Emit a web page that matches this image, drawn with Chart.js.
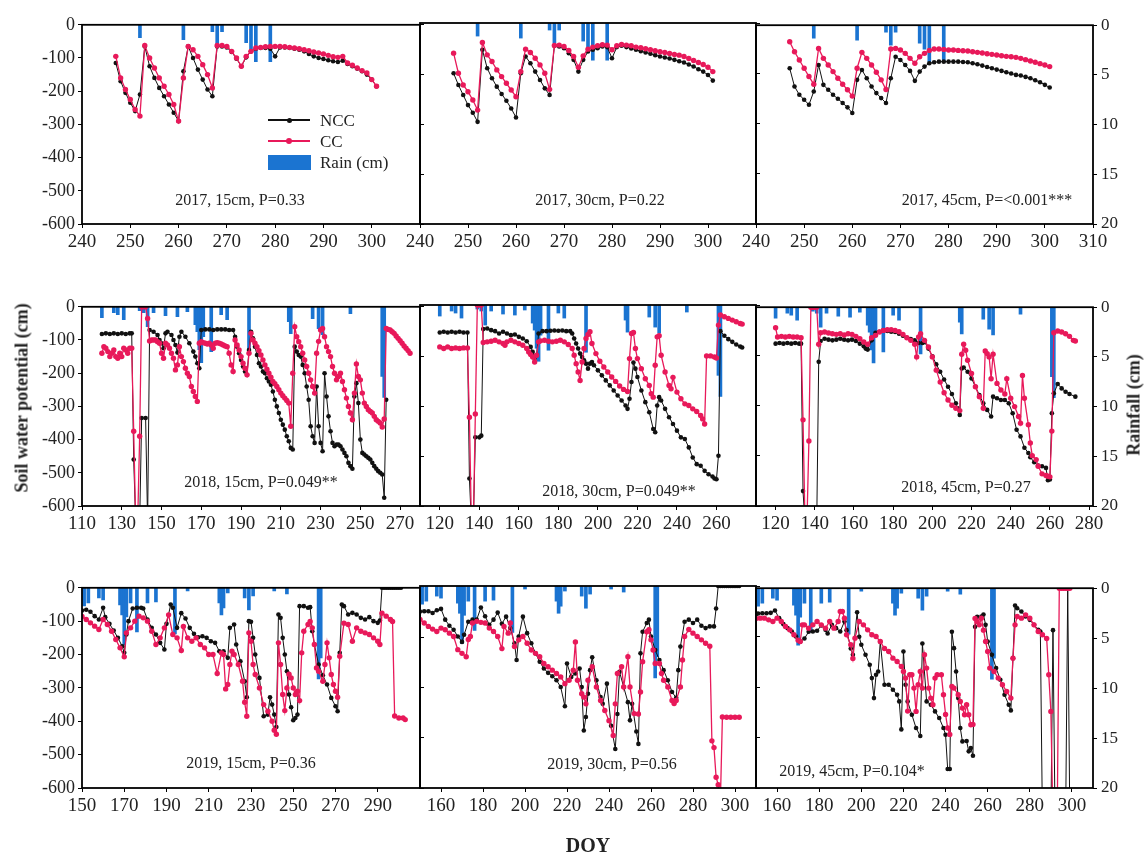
<!DOCTYPE html>
<html lang="en">
<head>
<meta charset="UTF-8">
<title>Soil water potential and rainfall, 2017-2019</title>
<script src="https://cdn.jsdelivr.net/npm/chart.js"></script>
<style>
  body { margin: 0; background: #fff; }
  #fig { position: relative; width: 1146px; height: 857px; font-family: "Liberation Serif", "Times New Roman", serif; color: #222; }
  #fig canvas { position: absolute; }
  .note { position: absolute; font-size: 16px; white-space: nowrap; transform: translate(-50%, -50%); }
  .title { position: absolute; font-weight: bold; font-size: 18px; white-space: nowrap; transform: translate(-50%, -50%); }
  .rot { transform: translate(-50%, -50%) rotate(-90deg); }
  .lg { position: absolute; font-size: 17px; line-height: 1; transform: translateY(-50%); }
</style>
</head>
<body>
<div id="fig"></div>
<script>
// ---- tick labels ----
const yTicks = [-600, -500, -400, -300, -200, -100, 0];
const rainTicks = [0, 5, 10, 15, 20];
const xt17 = [240, 250, 260, 270, 280, 290, 300];
const xt17end = [240, 250, 260, 270, 280, 290, 300, 310];
const xt18a = [110, 130, 150, 170, 190, 210, 230, 250, 270];
const xt18b = [120, 140, 160, 180, 200, 220, 240, 260];
const xt18c = [120, 140, 160, 180, 200, 220, 240, 260, 280];
const xt19a = [150, 170, 190, 210, 230, 250, 270, 290];
const xt19b = [160, 180, 200, 220, 240, 260, 280, 300];
const xt19c = [160, 180, 200, 220, 240, 260, 280, 300];

// ---- rainfall (cm), [DOY, rain] ----
const rain17 = [[252,1.3],[261,1.5],[267,0.7],[268,2.0],[269,0.7],[274,1.8],[275,2.4],[276,3.7],[279,3.7]];
const rain18 = [[120,1.1],[126,0.6],[128,0.8],[131,1.3],[139,0.4],[141,0.6],[143,2.0],[146,0.6],[152,0.9],[158,1.0],[163,0.5],[167,1.8],[168,2.5],[169,4.3],[170,5.6],[171,3.0],[175,4.5],[180,0.8],[183,1.3],[194,4.7],[214,1.5],[215,2.7],[226,1.2],[229,2.2],[231,2.8],[245,0.7],[261,7.0],[262,9.1]];
const rain19 = [[151,1.8],[153,1.5],[158,1.0],[160,1.2],[168,1.7],[169,2.7],[170,5.7],[171,2.9],[173,1.5],[176,4.4],[181,1.5],[185,1.4],[194,4.6],[200,0.3],[215,1.5],[216,2.7],[217,2.0],[219,0.5],[227,1.0],[229,2.2],[231,0.8],[241,0.3],[247,0.6],[262,9.1],[263,7.0]];

// ---- soil water potential (cm), [DOY, value] ----
const ncc17_15 = [[247,-115],[248,-170],[249,-205],[250,-235],[251,-260],[252,-210],[253,-65],[254,-125],[255,-160],[256,-190],[257,-215],[258,-240],[259,-265],[260,-290],[261,-140],[262,-65],[263,-100],[264,-135],[265,-165],[266,-195],[267,-215],[268,-65],[269,-65],[270,-68],[271,-82],[272,-102],[273,-125],[274,-98],[275,-80],[276,-72],[277,-70],[278,-70],[279,-72],[280,-95],[281,-68],[282,-68],[283,-70],[284,-72],[285,-75],[286,-80],[287,-88],[288,-95],[289,-100],[290,-103],[291,-107],[292,-110],[293,-112],[294,-108],[295,-118],[296,-125],[297,-132],[298,-140],[299,-150],[300,-165],[301,-185]];
const cc17_15 = [[247,-95],[248,-160],[249,-195],[250,-225],[251,-255],[252,-275],[253,-62],[254,-100],[255,-130],[256,-160],[257,-185],[258,-210],[259,-240],[260,-290],[261,-160],[262,-65],[263,-75],[264,-95],[265,-120],[266,-150],[267,-190],[268,-62],[269,-62],[270,-65],[271,-80],[272,-100],[273,-125],[274,-95],[275,-80],[276,-70],[277,-68],[278,-66],[279,-65],[280,-65],[281,-65],[282,-66],[283,-68],[284,-70],[285,-72],[286,-75],[287,-78],[288,-82],[289,-85],[290,-88],[291,-92],[292,-96],[293,-98],[294,-95],[295,-115],[296,-122],[297,-130],[298,-138],[299,-145],[300,-165],[301,-185]];
const ncc17_30 = [[247,-150],[248,-185],[249,-215],[250,-245],[251,-268],[252,-295],[253,-80],[254,-135],[255,-165],[256,-190],[257,-212],[258,-232],[259,-255],[260,-282],[261,-150],[262,-100],[263,-120],[264,-145],[265,-170],[266,-195],[267,-215],[268,-68],[269,-70],[270,-75],[271,-90],[272,-110],[273,-145],[274,-110],[275,-85],[276,-80],[277,-75],[278,-70],[279,-72],[280,-105],[281,-72],[282,-68],[283,-72],[284,-76],[285,-80],[286,-84],[287,-88],[288,-92],[289,-96],[290,-100],[291,-103],[292,-106],[293,-110],[294,-114],[295,-118],[296,-124],[297,-130],[298,-138],[299,-145],[300,-155],[301,-172]];
const cc17_30 = [[247,-90],[248,-150],[249,-185],[250,-205],[251,-230],[252,-260],[253,-58],[254,-95],[255,-115],[256,-140],[257,-160],[258,-180],[259,-200],[260,-220],[261,-145],[262,-78],[263,-88],[264,-105],[265,-125],[266,-150],[267,-198],[268,-67],[269,-66],[270,-70],[271,-82],[272,-100],[273,-132],[274,-98],[275,-78],[276,-72],[277,-68],[278,-65],[279,-66],[280,-80],[281,-68],[282,-64],[283,-66],[284,-68],[285,-72],[286,-74],[287,-77],[288,-80],[289,-83],[290,-86],[291,-88],[292,-91],[293,-94],[294,-96],[295,-100],[296,-106],[297,-112],[298,-118],[299,-124],[300,-132],[301,-145]];
const ncc17_45 = [[247,-130],[248,-185],[249,-210],[250,-225],[251,-240],[252,-200],[253,-120],[254,-180],[255,-195],[256,-210],[257,-222],[258,-235],[259,-248],[260,-265],[261,-165],[262,-135],[263,-160],[264,-185],[265,-205],[266,-220],[267,-235],[268,-160],[269,-95],[270,-105],[271,-120],[272,-138],[273,-168],[274,-140],[275,-125],[276,-115],[277,-112],[278,-110],[279,-110],[280,-110],[281,-110],[282,-110],[283,-111],[284,-112],[285,-115],[286,-118],[287,-122],[288,-126],[289,-130],[290,-134],[291,-138],[292,-142],[293,-146],[294,-150],[295,-152],[296,-156],[297,-160],[298,-166],[299,-172],[300,-180],[301,-188]];
const cc17_45 = [[247,-50],[248,-80],[249,-105],[250,-130],[251,-155],[252,-178],[253,-70],[254,-100],[255,-120],[256,-140],[257,-160],[258,-178],[259,-195],[260,-214],[261,-130],[262,-82],[263,-100],[264,-120],[265,-142],[266,-165],[267,-194],[268,-72],[269,-70],[270,-75],[271,-85],[272,-100],[273,-115],[274,-95],[275,-85],[276,-76],[277,-72],[278,-72],[279,-73],[280,-75],[281,-75],[282,-76],[283,-77],[284,-78],[285,-80],[286,-82],[287,-84],[288,-86],[289,-88],[290,-90],[291,-92],[292,-94],[293,-95],[294,-97],[295,-100],[296,-104],[297,-108],[298,-112],[299,-116],[300,-120],[301,-125]];

const ncc18_15 = [[120,-82],[122,-80],[124,-82],[126,-80],[128,-82],[130,-80],[132,-82],[134,-80],[135,-80],[136,-460],[137,-650],[139,-650],[140,-335],[142,-335],[143,-650],[144,-70],[146,-75],[148,-85],[149,-100],[150,-110],[151,-125],[152,-80],[153,-75],[155,-85],[156,-100],[157,-115],[158,-138],[159,-90],[160,-75],[162,-90],[164,-110],[166,-135],[167,-150],[168,-170],[169,-185],[170,-70],[172,-68],[174,-68],[176,-70],[178,-68],[180,-68],[182,-68],[184,-70],[186,-70],[187,-90],[188,-120],[189,-140],[190,-160],[191,-180],[192,-195],[193,-205],[194,-130],[195,-75],[196,-95],[197,-120],[198,-145],[199,-170],[200,-180],[201,-195],[202,-200],[203,-215],[204,-225],[205,-235],[206,-255],[207,-280],[208,-300],[209,-320],[210,-340],[211,-355],[212,-370],[213,-390],[214,-405],[215,-425],[216,-430],[217,-120],[218,-135],[219,-145],[220,-150],[221,-175],[222,-200],[223,-240],[224,-280],[225,-360],[226,-390],[227,-410],[228,-240],[229,-360],[230,-410],[231,-435],[232,-200],[233,-270],[234,-330],[235,-375],[236,-410],[237,-420],[238,-415],[239,-415],[240,-420],[241,-430],[242,-440],[243,-450],[244,-470],[245,-480],[246,-488],[247,-270],[248,-230],[249,-290],[250,-400],[251,-440],[252,-445],[253,-450],[254,-455],[255,-460],[256,-470],[257,-480],[258,-488],[259,-495],[260,-500],[261,-505],[262,-575],[263,-280]];
const cc18_15 = [[120,-140],[121,-120],[122,-125],[123,-135],[124,-150],[125,-140],[126,-130],[127,-150],[128,-155],[129,-140],[130,-150],[131,-125],[132,-130],[133,-140],[134,-125],[135,-125],[136,-375],[137,-650],[138,-650],[139,-390],[140,0],[141,0],[142,0],[143,-35],[144,-103],[145,-100],[146,-100],[147,-100],[148,-105],[149,-110],[150,-140],[151,-155],[152,-110],[153,-115],[154,-125],[155,-140],[156,-155],[157,-190],[158,-175],[159,-120],[160,-150],[161,-165],[162,-185],[163,-200],[164,-210],[165,-240],[166,-255],[167,-270],[168,-285],[169,-110],[170,-105],[171,-108],[172,-110],[173,-112],[174,-110],[175,-115],[176,-125],[177,-110],[178,-108],[179,-110],[180,-112],[181,-115],[182,-118],[183,-120],[184,-140],[185,-175],[186,-195],[187,-100],[188,-115],[189,-130],[190,-150],[191,-170],[192,-185],[193,-205],[194,-140],[195,-80],[196,-100],[197,-110],[198,-120],[199,-132],[200,-145],[201,-160],[202,-175],[203,-188],[204,-200],[205,-212],[206,-225],[207,-232],[208,-240],[209,-250],[210,-260],[211,-268],[212,-275],[213,-282],[214,-290],[215,-360],[216,-200],[217,-60],[218,-90],[219,-105],[220,-120],[221,-140],[222,-160],[223,-180],[224,-200],[225,-220],[226,-240],[227,-260],[228,-140],[229,-104],[230,-70],[231,-65],[232,-90],[233,-120],[234,-135],[235,-150],[236,-180],[237,-200],[238,-220],[239,-210],[240,-200],[241,-225],[242,-250],[243,-275],[244,-300],[245,-320],[246,-340],[247,-260],[248,-172],[249,-210],[250,-220],[251,-260],[252,-290],[253,-300],[254,-310],[255,-315],[256,-320],[257,-330],[258,-340],[259,-345],[260,-350],[261,-362],[262,-338],[263,-65],[264,-68],[265,-70],[266,-75],[267,-80],[268,-88],[269,-95],[270,-102],[271,-110],[272,-118],[273,-125],[274,-132],[275,-140]];
const ncc18_30 = [[120,-82],[122,-80],[124,-82],[126,-80],[128,-82],[130,-80],[132,-82],[134,-82],[135,-518],[136,-650],[137,-650],[138,-395],[140,-395],[141,-390],[142,-72],[144,-70],[146,-75],[148,-78],[150,-85],[152,-80],[154,-85],[156,-90],[158,-88],[160,-95],[162,-100],[164,-108],[166,-125],[167,-140],[168,-160],[169,-150],[170,-85],[172,-78],[174,-78],[176,-77],[178,-76],[180,-77],[182,-76],[184,-78],[186,-78],[187,-85],[188,-100],[189,-115],[190,-130],[191,-145],[192,-155],[193,-165],[194,-175],[195,-190],[196,-175],[197,-170],[198,-180],[200,-195],[202,-210],[204,-225],[206,-240],[208,-255],[210,-270],[212,-285],[214,-300],[215,-310],[216,-280],[217,-230],[218,-172],[219,-190],[220,-215],[222,-255],[224,-290],[226,-320],[228,-370],[229,-380],[230,-300],[231,-275],[232,-285],[234,-310],[236,-335],[238,-355],[240,-375],[242,-395],[244,-400],[246,-425],[248,-455],[250,-475],[252,-480],[254,-495],[256,-505],[258,-512],[259,-518],[260,-520],[261,-450],[262,-78],[264,-92],[266,-102],[268,-110],[270,-118],[272,-124],[273,-127]];
const cc18_30 = [[120,-125],[122,-130],[124,-125],[126,-130],[128,-128],[130,-130],[132,-128],[134,-128],[135,-335],[136,-650],[137,-650],[138,-325],[139,0],[140,0],[141,0],[142,-112],[144,-110],[146,-108],[148,-105],[150,-110],[152,-115],[153,-120],[154,-110],[156,-105],[158,-110],[160,-115],[162,-120],[164,-130],[165,-140],[166,-148],[167,-155],[168,-170],[169,-150],[170,-110],[171,-107],[173,-105],[175,-108],[177,-110],[179,-108],[181,-105],[183,-110],[185,-118],[187,-130],[188,-150],[189,-175],[190,-200],[191,-225],[192,-170],[193,-130],[194,-100],[195,-88],[196,-80],[197,-115],[199,-145],[201,-168],[203,-185],[205,-200],[207,-215],[209,-228],[211,-242],[213,-252],[215,-258],[216,-160],[217,-85],[218,-82],[219,-130],[220,-160],[222,-190],[224,-220],[226,-240],[227,-265],[228,-275],[229,-180],[230,-95],[231,-92],[232,-150],[234,-200],[236,-240],[237,-250],[238,-216],[240,-260],[242,-280],[244,-295],[246,-300],[248,-310],[250,-318],[252,-330],[253,-340],[254,-355],[255,-152],[257,-152],[259,-155],[260,-158],[261,-60],[262,-30],[264,-35],[266,-40],[268,-45],[270,-50],[272,-55],[273,-57]];
const ncc18_45 = [[120,-110],[122,-108],[124,-110],[126,-108],[128,-110],[130,-108],[132,-110],[133,-110],[134,-555],[135,-650],[141,-650],[142,-165],[143,-102],[145,-95],[147,-98],[149,-100],[151,-98],[153,-95],[155,-98],[157,-100],[159,-98],[161,-102],[163,-110],[165,-118],[166,-125],[167,-128],[169,-100],[171,-77],[173,-74],[175,-70],[177,-72],[179,-74],[181,-75],[183,-80],[185,-86],[187,-92],[189,-96],[191,-100],[193,-108],[195,-108],[196,-105],[198,-125],[200,-148],[202,-172],[204,-195],[206,-218],[208,-240],[210,-262],[212,-290],[213,-305],[214,-325],[215,-185],[216,-182],[218,-195],[220,-215],[222,-240],[224,-265],[226,-290],[228,-310],[230,-330],[231,-270],[233,-275],[235,-280],[237,-280],[239,-290],[241,-320],[243,-370],[245,-390],[247,-424],[249,-440],[250,-453],[252,-468],[254,-478],[256,-480],[258,-485],[259,-522],[260,-520],[261,-320],[262,-260],[264,-232],[266,-245],[268,-255],[270,-262],[273,-270]];
const cc18_45 = [[120,-62],[121,-90],[123,-88],[125,-90],[127,-88],[129,-90],[131,-90],[133,-92],[134,-340],[135,-650],[136,-650],[137,-404],[138,0],[139,0],[140,0],[141,0],[142,-112],[143,-77],[145,-75],[147,-78],[149,-80],[151,-82],[153,-80],[155,-84],[157,-80],[159,-82],[161,-88],[163,-95],[165,-105],[167,-112],[169,-92],[171,-85],[173,-75],[175,-70],[177,-68],[179,-68],[181,-70],[183,-74],[185,-82],[187,-92],[189,-100],[191,-112],[192,-150],[193,-90],[194,-80],[196,-100],[198,-120],[200,-150],[202,-190],[204,-226],[206,-258],[208,-280],[210,-296],[212,-305],[214,-312],[215,-142],[216,-112],[217,-130],[218,-160],[220,-200],[222,-240],[224,-270],[226,-305],[227,-132],[228,-140],[229,-150],[230,-216],[231,-142],[233,-230],[235,-250],[237,-262],[238,-216],[240,-275],[242,-300],[244,-330],[245,-350],[246,-206],[247,-275],[249,-355],[250,-410],[251,-448],[253,-460],[254,-480],[256,-503],[258,-508],[259,-510],[260,-512],[261,-374],[262,-77],[264,-72],[266,-75],[268,-80],[270,-88],[272,-100],[273,-102]];

const ncc19_15 = [[150,-68],[152,-66],[154,-72],[156,-85],[158,-95],[160,-60],[161,-88],[163,-108],[165,-128],[167,-150],[169,-175],[170,-195],[171,-140],[172,-100],[174,-62],[176,-60],[178,-60],[179,-62],[181,-95],[183,-120],[185,-140],[187,-165],[189,-185],[190,-108],[192,-50],[193,-60],[195,-120],[197,-76],[199,-92],[201,-120],[203,-138],[205,-148],[207,-145],[209,-150],[211,-160],[213,-165],[215,-190],[217,-190],[219,-210],[220,-120],[222,-110],[223,-170],[225,-220],[227,-280],[228,-328],[229,-100],[230,-102],[231,-150],[232,-200],[234,-270],[236,-385],[238,-380],[239,-328],[240,-350],[241,-380],[242,-417],[243,-80],[244,-90],[245,-150],[246,-200],[247,-250],[248,-320],[249,-358],[250,-397],[251,-390],[252,-380],[253,-55],[255,-55],[257,-60],[258,-58],[259,-130],[260,-170],[262,-230],[264,-262],[266,-290],[268,-330],[270,-355],[271,-370],[272,-195],[273,-50],[274,-55],[276,-80],[278,-75],[280,-80],[282,-90],[284,-95],[286,-88],[288,-100],[290,-105],[291,-98],[292,0],[293,0],[294,0],[295,0],[296,0],[297,0],[298,0],[299,0],[300,0],[301,0]];
const cc19_15 = [[150,-86],[152,-95],[154,-105],[156,-115],[158,-125],[160,-95],[162,-110],[164,-130],[166,-155],[168,-180],[170,-207],[171,-135],[173,-120],[175,-100],[177,-85],[179,-90],[181,-100],[183,-130],[185,-170],[187,-150],[189,-120],[191,-81],[193,-140],[195,-150],[197,-188],[198,-116],[200,-150],[202,-160],[204,-150],[206,-170],[208,-180],[210,-200],[212,-200],[214,-257],[216,-195],[217,-200],[218,-303],[219,-290],[220,-230],[221,-190],[222,-200],[224,-230],[226,-280],[227,-343],[228,-385],[229,-135],[230,-160],[231,-230],[232,-260],[234,-300],[236,-350],[238,-370],[240,-400],[241,-427],[242,-439],[243,-165],[244,-230],[245,-320],[246,-368],[247,-300],[248,-259],[249,-270],[250,-300],[251,-320],[252,-310],[253,-338],[254,-195],[255,-130],[257,-110],[258,-101],[259,-120],[260,-170],[261,-240],[262,-250],[264,-280],[265,-230],[266,-165],[267,-210],[268,-260],[269,-290],[270,-310],[271,-328],[272,-205],[274,-106],[276,-110],[278,-160],[280,-120],[282,-130],[284,-135],[286,-140],[288,-150],[290,-160],[291,-170],[292,-76],[294,-85],[296,-95],[297,-101],[298,-384],[300,-390],[302,-390],[303,-395]];
const ncc19_30 = [[150,-76],[152,-75],[154,-75],[156,-80],[158,-72],[160,-68],[162,-100],[164,-118],[166,-130],[168,-150],[170,-166],[171,-145],[173,-106],[175,-100],[177,-100],[179,-64],[181,-90],[183,-115],[185,-100],[187,-79],[189,-112],[191,-91],[193,-125],[195,-170],[196,-220],[197,-150],[199,-91],[201,-140],[203,-170],[205,-200],[207,-225],[209,-245],[211,-258],[213,-268],[215,-280],[217,-300],[219,-357],[220,-230],[222,-270],[224,-260],[226,-245],[227,-300],[228,-429],[229,-389],[230,-320],[231,-250],[232,-212],[234,-280],[236,-330],[237,-350],[239,-290],[241,-415],[243,-484],[244,-380],[245,-255],[247,-300],[249,-345],[250,-399],[251,-350],[253,-432],[254,-469],[255,-200],[256,-136],[258,-110],[259,-100],[260,-150],[262,-190],[264,-220],[266,-250],[268,-280],[270,-315],[272,-332],[273,-250],[274,-180],[276,-106],[278,-100],[280,-110],[282,-100],[284,-118],[286,-125],[288,-120],[290,-120],[291,-67],[292,0],[293,0],[294,0],[295,0],[296,0],[297,0],[298,0],[299,0],[300,0],[301,0],[302,0]];
const cc19_30 = [[150,-99],[152,-110],[154,-120],[156,-128],[158,-135],[160,-125],[162,-130],[164,-140],[166,-150],[168,-189],[170,-200],[172,-210],[173,-159],[174,-150],[175,-110],[177,-105],[179,-108],[181,-110],[183,-125],[185,-135],[187,-150],[189,-186],[190,-120],[192,-140],[193,-110],[195,-180],[197,-160],[199,-150],[201,-170],[203,-190],[205,-200],[207,-210],[209,-230],[211,-240],[213,-250],[215,-260],[217,-270],[219,-290],[221,-280],[223,-250],[224,-166],[225,-280],[227,-320],[228,-330],[229,-350],[230,-280],[232,-240],[234,-300],[236,-340],[238,-370],[240,-400],[242,-444],[243,-350],[244,-260],[246,-240],[247,-300],[249,-210],[250,-300],[252,-379],[254,-380],[255,-315],[256,-225],[258,-136],[259,-130],[260,-160],[261,-190],[262,-230],[264,-230],[265,-260],[266,-280],[268,-300],[270,-340],[271,-349],[272,-340],[274,-300],[275,-220],[276,-150],[278,-129],[280,-140],[282,-150],[284,-160],[286,-170],[288,-179],[289,-460],[290,-480],[291,-568],[292,-590],[293,-650],[294,-389],[296,-390],[298,-390],[300,-390],[302,-390]];
const ncc19_45 = [[150,-78],[151,-76],[153,-75],[155,-75],[157,-74],[159,-67],[161,-90],[163,-108],[165,-120],[167,-130],[169,-145],[171,-161],[173,-151],[175,-131],[177,-130],[179,-128],[181,-112],[183,-125],[184,-136],[186,-110],[188,-120],[190,-130],[192,-100],[193,-126],[195,-181],[196,-200],[198,-72],[199,-146],[200,-170],[202,-200],[204,-230],[205,-270],[206,-330],[207,-260],[208,-250],[209,-161],[211,-290],[213,-290],[215,-305],[217,-320],[218,-340],[219,-424],[220,-190],[221,-290],[222,-340],[224,-380],[226,-420],[228,-444],[229,-166],[231,-340],[233,-350],[235,-370],[237,-390],[239,-420],[240,-440],[241,-543],[242,-543],[243,-131],[244,-180],[245,-250],[246,-330],[247,-420],[248,-460],[250,-459],[251,-490],[252,-480],[253,-503],[254,-116],[255,-86],[257,-85],[258,-79],[259,-110],[260,-160],[262,-200],[264,-240],[266,-275],[268,-320],[270,-350],[271,-367],[272,-210],[273,-52],[274,-60],[276,-70],[278,-85],[280,-95],[282,-110],[284,-125],[285,-130],[286,-700],[290,-700],[291,-126],[292,-700],[297,-700],[298,0],[299,-700]];
const cc19_45 = [[150,-91],[152,-90],[154,-90],[156,-95],[158,-100],[160,-90],[162,-100],[164,-115],[166,-125],[168,-140],[170,-156],[171,-160],[172,-110],[173,-110],[175,-120],[177,-110],[179,-100],[181,-110],[183,-120],[185,-100],[187,-120],[189,-100],[190,-70],[191,-70],[192,-90],[193,-140],[195,-170],[196,-211],[197,-150],[199,-100],[201,-110],[203,-125],[205,-140],[207,-145],[209,-160],[211,-181],[213,-190],[215,-210],[217,-220],[219,-235],[220,-250],[221,-270],[222,-369],[223,-260],[224,-260],[225,-300],[226,-370],[227,-290],[228,-250],[229,-300],[230,-200],[231,-240],[232,-300],[233,-330],[234,-350],[235,-270],[236,-260],[238,-260],[239,-320],[240,-379],[241,-420],[242,-439],[243,-295],[244,-300],[246,-320],[247,-340],[248,-360],[249,-380],[250,-350],[251,-380],[252,-410],[253,-409],[254,-91],[255,-100],[256,-110],[257,-90],[258,-126],[259,-160],[260,-190],[261,-240],[263,-250],[265,-270],[267,-290],[269,-310],[271,-330],[272,-210],[273,-110],[274,-85],[276,-90],[278,-80],[280,-90],[282,-110],[284,-130],[286,-140],[288,-151],[289,-260],[290,-370],[291,-700],[293,-700],[294,0],[295,0],[296,0],[297,0],[298,0],[299,0]];

// ---- layout of the 3x3 grid (plot-area edges in px) ----
const colL = [82, 420, 756];
const colR = [420, 756, 1093];
const rowT = [23, 305, 586];
const rowB = [224, 506, 788];
const PAD_L = 70, PAD_R = 50, PAD_T = 12, PAD_B = 40;

const NCC_COLOR = '#111111';
const CC_COLOR = '#e8195a';
const RAIN_COLOR = '#1b74d1';
const FONT = '"Liberation Serif", "Times New Roman", serif';

const panels = [
  { r: 0, c: 0, ncc: ncc17_15, cc: cc17_15, rain: rain17, xmin: 240, xmax: 310, xt: xt17, note: '2017, 15cm, P=0.33', nx: 240, ny: 200 },
  { r: 0, c: 1, ncc: ncc17_30, cc: cc17_30, rain: rain17, xmin: 240, xmax: 310, xt: xt17, note: '2017, 30cm, P=0.22', nx: 600, ny: 200 },
  { r: 0, c: 2, ncc: ncc17_45, cc: cc17_45, rain: rain17, xmin: 240, xmax: 310, xt: xt17end, note: '2017, 45cm, P=<0.001***', nx: 987, ny: 200 },
  { r: 1, c: 0, ncc: ncc18_15, cc: cc18_15, rain: rain18, xmin: 110, xmax: 280, xt: xt18a, note: '2018, 15cm, P=0.049**', nx: 261, ny: 482 },
  { r: 1, c: 1, ncc: ncc18_30, cc: cc18_30, rain: rain18, xmin: 110, xmax: 280, xt: xt18b, note: '2018, 30cm, P=0.049**', nx: 619, ny: 491 },
  { r: 1, c: 2, ncc: ncc18_45, cc: cc18_45, rain: rain18, xmin: 110, xmax: 282, xt: xt18c, note: '2018, 45cm, P=0.27', nx: 966, ny: 487 },
  { r: 2, c: 0, ncc: ncc19_15, cc: cc19_15, rain: rain19, xmin: 150, xmax: 310, xt: xt19a, note: '2019, 15cm, P=0.36', nx: 251, ny: 763 },
  { r: 2, c: 1, ncc: ncc19_30, cc: cc19_30, rain: rain19, xmin: 150, xmax: 310, xt: xt19b, note: '2019, 30cm, P=0.56', nx: 612, ny: 764 },
  { r: 2, c: 2, ncc: ncc19_45, cc: cc19_45, rain: rain19, xmin: 150, xmax: 310, xt: xt19c, note: '2019, 45cm, P=0.104*', nx: 852, ny: 771 }
];

const fig = document.getElementById('fig');
const toXY = arr => arr.map(p => ({ x: p[0], y: p[1] }));

// black frame round each plot area
const framePlugin = {
  id: 'frame',
  afterDatasetsDraw(chart) {
    const a = chart.chartArea, ctx = chart.ctx;
    ctx.save();
    ctx.strokeStyle = '#000';
    ctx.lineWidth = 1.8;
    ctx.strokeRect(a.left, a.top, a.right - a.left, a.bottom - a.top);
    ctx.restore();
  }
};

panels.forEach(p => {
  const w = colR[p.c] - colL[p.c], h = rowB[p.r] - rowT[p.r];
  const cv = document.createElement('canvas');
  cv.width = w + PAD_L + PAD_R;
  cv.height = h + PAD_T + PAD_B;
  cv.style.left = (colL[p.c] - PAD_L) + 'px';
  cv.style.top = (rowT[p.r] - PAD_T) + 'px';
  fig.appendChild(cv);

  new Chart(cv, {
    type: 'line',
    data: {
      datasets: [
        { label: 'CC', data: toXY(p.cc), borderColor: CC_COLOR, backgroundColor: CC_COLOR,
          borderWidth: 1.3, pointRadius: 2.7, pointBorderWidth: 0, tension: 0, yAxisID: 'y', order: 1 },
        { label: 'NCC', data: toXY(p.ncc), borderColor: NCC_COLOR, backgroundColor: NCC_COLOR,
          borderWidth: 1, pointRadius: 2.3, pointBorderWidth: 0, tension: 0, yAxisID: 'y', order: 2 },
        { type: 'bar', label: 'Rain (cm)', data: toXY(p.rain), backgroundColor: RAIN_COLOR,
          barThickness: 3, yAxisID: 'rain', order: 3 }
      ]
    },
    options: {
      responsive: false,
      animation: false,
      devicePixelRatio: 1,
      layout: { padding: { top: PAD_T, left: 0, right: 0, bottom: 0 } },
      plugins: { legend: { display: false }, tooltip: { enabled: false } },
      scales: {
        x: {
          type: 'linear', min: p.xmin, max: p.xmax, offset: false,
          afterBuildTicks: s => { s.ticks = p.xt.map(v => ({ value: v })); },
          afterFit: s => { s.height = PAD_B; },
          ticks: { autoSkip: false, maxRotation: 0, padding: 3, color: '#222', font: { family: FONT, size: 19 } },
          grid: { drawOnChartArea: false, offset: false, tickLength: 4, color: '#000' },
          border: { display: false }
        },
        y: {
          position: 'left', min: -600, max: 0,
          afterBuildTicks: s => { s.ticks = yTicks.map(v => ({ value: v })); },
          afterFit: s => { s.width = PAD_L; },
          ticks: { display: p.c === 0, padding: 3, color: '#222', font: { family: FONT, size: 18 } },
          grid: { drawOnChartArea: false, drawTicks: p.c === 0, tickLength: 4, color: '#000' },
          border: { display: false }
        },
        rain: {
          position: 'right', min: 0, max: 20, reverse: true,
          afterBuildTicks: s => { s.ticks = rainTicks.map(v => ({ value: v })); },
          afterFit: s => { s.width = PAD_R; },
          ticks: { display: p.c === 2, padding: 4, color: '#222', font: { family: FONT, size: 17 } },
          grid: { drawOnChartArea: false, tickLength: 4, color: '#000' },
          border: { display: false }
        }
      }
    },
    plugins: [framePlugin]
  });

  const n = document.createElement('div');
  n.className = 'note';
  n.textContent = p.note;
  n.style.left = p.nx + 'px';
  n.style.top = p.ny + 'px';
  fig.appendChild(n);
});

// legend inside the first panel
function addLegendLine(y, color, r) {
  const line = document.createElement('div');
  line.style.cssText = `position:absolute;left:268px;top:${y - 0.75}px;width:42px;height:1.5px;background:${color}`;
  const dot = document.createElement('div');
  dot.style.cssText = `position:absolute;left:${289 - r}px;top:${y - r}px;width:${2 * r}px;height:${2 * r}px;border-radius:50%;background:${color}`;
  fig.appendChild(line);
  fig.appendChild(dot);
}
addLegendLine(120, NCC_COLOR, 2.5);
addLegendLine(141, CC_COLOR, 3);
const box = document.createElement('div');
box.style.cssText = `position:absolute;left:268px;top:155px;width:43px;height:15px;background:${RAIN_COLOR}`;
fig.appendChild(box);
[['NCC', 120], ['CC', 141], ['Rain (cm)', 162]].forEach(([t, y]) => {
  const d = document.createElement('div');
  d.className = 'lg';
  d.textContent = t;
  d.style.left = '320px';
  d.style.top = y + 'px';
  fig.appendChild(d);
});

// axis titles
[['Soil water potential (cm)', 22, 398, true, 18],
 ['Rainfall (cm)', 1134, 405, true, 18],
 ['DOY', 588, 845, false, 20]].forEach(([t, x, y, rot, fs]) => {
  const d = document.createElement('div');
  d.className = 'title' + (rot ? ' rot' : '');
  d.textContent = t;
  d.style.left = x + 'px';
  d.style.top = y + 'px';
  d.style.fontSize = fs + 'px';
  fig.appendChild(d);
});
</script>
</body>
</html>
